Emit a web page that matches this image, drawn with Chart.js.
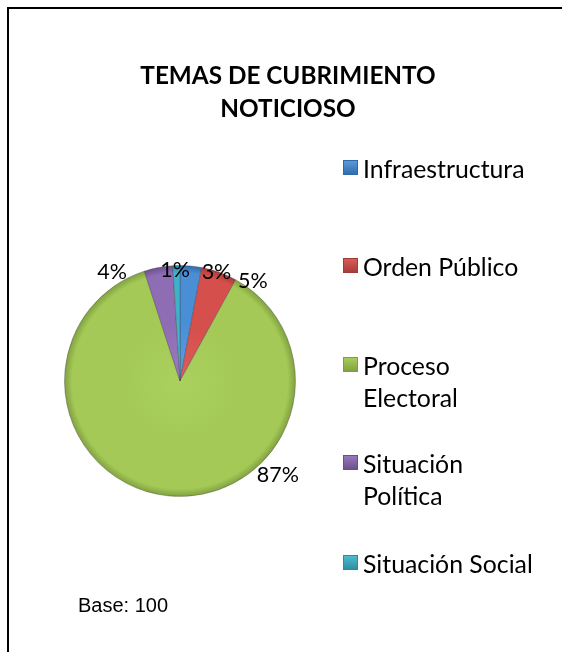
<!DOCTYPE html>
<html>
<head>
<meta charset="utf-8">
<script src="https://cdn.jsdelivr.net/npm/chart.js@4.4.1/dist/chart.umd.min.js"></script>
<style>
  html, body { margin: 0; padding: 0; background: #fff; }
  #wrap { position: relative; width: 562px; height: 652px; overflow: hidden; }
  #frame { position: absolute; left: 7px; top: 7px; width: 700px; height: 800px;
           border-top: 2px solid #000; border-left: 2px solid #000; }
  canvas { position: absolute; left: 0; top: 0; }
</style>
</head>
<body>
<div id="wrap">
  <div id="frame"></div>
  <canvas id="pie" width="562" height="652"></canvas>
</div>
<script>
// ─── Data ─────────────────────────────────────────────────────────────────────
const categories = ['Infraestructura', 'Orden Público', 'Proceso Electoral', 'Situación Política', 'Situación Social'];
const legendLines = [['Infraestructura'], ['Orden Público'], ['Proceso', 'Electoral'], ['Situación', 'Política'], ['Situación Social']];
const shares = [3, 5, 87, 4, 1];
const titleLines = ['TEMAS DE CUBRIMIENTO', 'NOTICIOSO'];
const baseNote = 'Base: 100';

// ─── Style ────────────────────────────────────────────────────────────────────
const baseColors = ['#4a8fd6', '#d54f4c', '#a4c957', '#8f6db5', '#3fb2c9'];
const lightColors = ['#5c9de0', '#dd5e5a', '#aad05e', '#9a7abd', '#52bdd2'];
const darkColors = ['#2f6aa8', '#a33a37', '#7f9f3e', '#6a4f8c', '#2b8ca0'];
// label placement (degrees clockwise from 12 o'clock, distance from centre)
const labelAngle = [18.5, 36, 134, 328, -2.5];
const labelDist = [115, 124, 136, 128, 111];
const legendBaselines = [178, 276, 375, 473, 573];

function sliceFill(c) {
    const i = c.dataIndex;
    const area = c.chart.chartArea;
    if (!area) return baseColors[i];
    const cx = (area.left + area.right) / 2, cy = (area.top + area.bottom) / 2;
    const r = Math.min(area.right - area.left, area.bottom - area.top) / 2;
    const g = c.chart.ctx.createRadialGradient(cx, cy, 0, cx, cy, r);
    g.addColorStop(0, lightColors[i]);
    g.addColorStop(0.5, baseColors[i]);
    g.addColorStop(0.93, baseColors[i]);
    g.addColorStop(1, darkColors[i]);
    return g;
}

// ─── Overlay: title, labels, legend, note ────────────────────────────────────
const overlay = {
    id: 'overlay',
    afterDraw(chart) {
        const ctx = chart.ctx;
        ctx.save();
        ctx.fillStyle = '#000';

        ctx.textAlign = 'center';
        ctx.textBaseline = 'alphabetic';
        ctx.font = 'bold 24.3px Lato';
        ctx.fillText(titleLines[0], 288, 84);
        ctx.fillText(titleLines[1], 288, 117);

        const arcs = chart.getDatasetMeta(0).data;
        ctx.font = '21.5px Lato';
        ctx.textBaseline = 'middle';
        arcs.forEach((arc, i) => {
            const a = (labelAngle[i] - 90) * Math.PI / 180;
            const x = arc.x + Math.cos(a) * labelDist[i];
            const y = arc.y + Math.sin(a) * labelDist[i];
            ctx.fillText(shares[i] + '%', x, y);
        });

        ctx.textAlign = 'left';
        ctx.textBaseline = 'alphabetic';
        ctx.font = '24.8px Lato';
        legendLines.forEach((lines, i) => {
            const b = legendBaselines[i];
            const g = ctx.createLinearGradient(0, b - 18, 0, b - 3);
            g.addColorStop(0, lightColors[i]);
            g.addColorStop(1, darkColors[i]);
            ctx.fillStyle = g;
            ctx.fillRect(343, b - 18, 15, 15);
            ctx.strokeStyle = darkColors[i];
            ctx.lineWidth = 1;
            ctx.strokeRect(343.5, b - 17.5, 14, 14);
            ctx.fillStyle = '#000';
            lines.forEach((t, k) => ctx.fillText(t, 363, b + k * 32));
        });

        ctx.font = '20px "Liberation Sans", Arial';
        ctx.fillText(baseNote, 78, 612);
        ctx.restore();
    }
};

new Chart(document.getElementById('pie'), {
    type: 'pie',
    data: {
        labels: categories,
        datasets: [{
            data: shares,
            backgroundColor: sliceFill,
            borderColor: 'rgba(60,60,60,0.35)',
            borderWidth: 1
        }]
    },
    options: {
        responsive: false,
        animation: false,
        layout: { padding: { left: 64, top: 265, right: 266, bottom: 155 } },
        plugins: { legend: { display: false }, title: { display: false }, tooltip: { enabled: false } }
    },
    plugins: [overlay]
});
</script>
</body>
</html>
